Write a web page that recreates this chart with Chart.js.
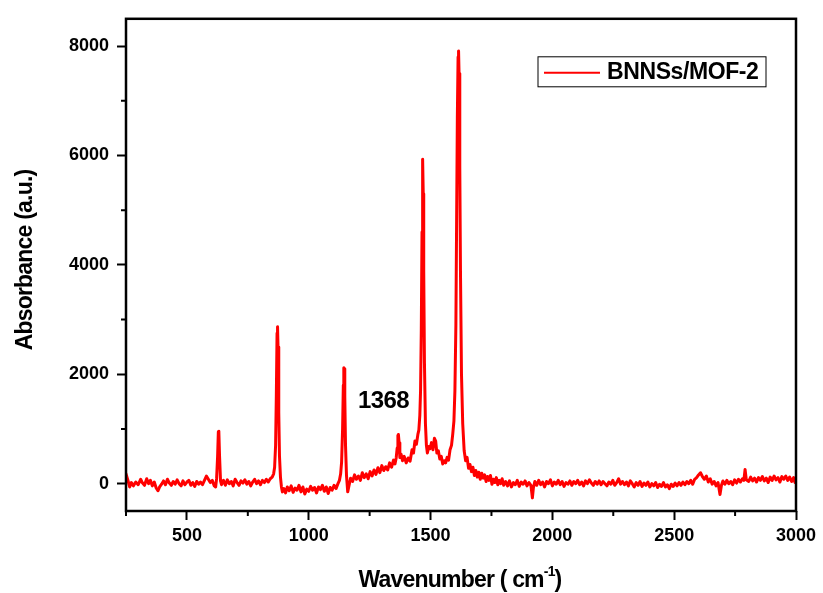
<!DOCTYPE html>
<html>
<head>
<meta charset="utf-8">
<script src="https://cdn.jsdelivr.net/npm/chart.js"></script>
<style>
body { margin: 0; background: #fff; }
canvas { display: block; }
</style>
</head>
<body>
<canvas id="spectrumChart" width="823" height="593"></canvas>
<script>
// spectrum, wavenumber (cm-1) and absorbance (a.u.)
const wavenumbers = [
    250, 258, 265, 272, 280, 290, 300, 310, 318, 326,
    335, 343, 350, 358, 366, 374, 381, 388, 396, 404,
    412, 420, 428, 436, 444, 452, 460, 468, 476, 484,
    492, 500, 508, 516, 524, 532, 540, 548, 556, 564,
    572, 580, 588, 596, 604, 612, 618, 622, 626, 629,
    631, 634, 638, 642, 650, 658, 666, 674, 682, 690,
    698, 706, 714, 722, 730, 738, 746, 754, 762, 770,
    778, 786, 794, 802, 810, 818, 826, 834, 842, 850,
    856, 860, 864, 867, 870, 872, 874, 877, 880, 884,
    888, 892, 898, 905, 912, 920, 928, 936, 944, 952,
    960, 968, 976, 984, 992, 1000, 1008, 1016, 1024, 1032,
    1040, 1048, 1056, 1064, 1072, 1080, 1088, 1096, 1104, 1112,
    1120, 1126, 1131, 1135, 1139, 1142, 1144, 1146, 1148, 1151,
    1155, 1160, 1165, 1172, 1180, 1188, 1196, 1204, 1212, 1220,
    1228, 1236, 1244, 1252, 1260, 1268, 1276, 1284, 1292, 1300,
    1308, 1316, 1324, 1332, 1340, 1348, 1354, 1359, 1363, 1366,
    1368, 1371, 1374, 1379, 1385, 1392, 1400, 1408, 1416, 1424,
    1430, 1436, 1442, 1448, 1452, 1456, 1459, 1462, 1465, 1467,
    1468, 1470, 1472, 1475, 1479, 1483, 1487, 1493, 1498, 1504,
    1510, 1516, 1521, 1526, 1532, 1538, 1544, 1550, 1556, 1562,
    1568, 1574, 1580, 1586, 1591, 1596, 1600, 1604, 1607, 1610,
    1613, 1615, 1617, 1620, 1623, 1627, 1632, 1638, 1644, 1650,
    1656, 1662, 1668, 1674, 1680, 1686, 1692, 1698, 1704, 1710,
    1716, 1722, 1728, 1734, 1740, 1746, 1752, 1758, 1764, 1770,
    1776, 1782, 1788, 1794, 1800, 1808, 1816, 1824, 1832, 1840,
    1848, 1856, 1864, 1872, 1880, 1888, 1896, 1904, 1912, 1918,
    1922, 1928, 1936, 1944, 1952, 1960, 1968, 1976, 1984, 1992,
    2000, 2008, 2016, 2024, 2032, 2040, 2048, 2056, 2064, 2072,
    2080, 2088, 2096, 2104, 2112, 2120, 2128, 2136, 2144, 2152,
    2160, 2168, 2176, 2184, 2192, 2200, 2208, 2216, 2224, 2232,
    2240, 2248, 2256, 2264, 2272, 2280, 2288, 2296, 2304, 2312,
    2320, 2328, 2336, 2344, 2352, 2360, 2368, 2376, 2384, 2392,
    2400, 2408, 2416, 2424, 2432, 2440, 2448, 2456, 2464, 2472,
    2480, 2488, 2496, 2504, 2512, 2520, 2528, 2536, 2544, 2552,
    2560, 2568, 2576, 2584, 2592, 2600, 2608, 2616, 2624, 2632,
    2640, 2648, 2656, 2664, 2672, 2680, 2688, 2694, 2700, 2708,
    2716, 2724, 2732, 2740, 2748, 2756, 2764, 2772, 2780, 2786,
    2791, 2796, 2806, 2814, 2822, 2830, 2838, 2846, 2854, 2862,
    2870, 2878, 2886, 2894, 2902, 2910, 2918, 2926, 2934, 2942,
    2950, 2958, 2966, 2974, 2982, 2990, 2996, 3000
];
const absorbance = [
    180, 60, -60, 20, -40, 30, -20, 80, 10, -30,
    90, 0, 60, -40, 30, -80, -130, -60, -10, 50,
    -20, 80, 10, -30, 40, -10, 70, 0, -40, 50,
    -20, 30, 60, -30, 20, -50, 40, -10, 30, -20,
    60, 140, 80, 20, 60, -40, -60, 100, 500, 950,
    960, 500, 50, -20, 60, -30, 70, 0, 40, -40,
    80, 20, -30, 50, 10, 70, -10, 40, -40, 30,
    80, 0, 50, -20, 60, 20, 80, 30, 90, 120,
    180, 300, 700, 1600, 2750, 2870, 2500, 1300, 500, 120,
    -60, -150, -90, -170, -60, -130, -40, -160, -80, -120,
    -30, -150, -60, -190, -100, -140, -50, -120, -70, -170,
    -60, -110, -30, -140, -60, -180, -70, -120, -30, -90,
    0, 60, 180, 400, 1000, 1800, 2120, 2100, 1600, 700,
    150, -150, -40, 100, 40, 160, 80, 140, 60, 200,
    110, 180, 90, 220, 140, 250, 170, 290, 200, 330,
    240, 310, 250, 380, 300, 430, 360, 470, 650, 880,
    900, 750, 480, 540, 420, 500, 380, 470, 410, 620,
    560, 780, 720, 900, 980, 1250, 1700, 2800, 4600, 5700,
    5930, 5300, 3900, 2200, 1100, 700, 560, 680, 640, 750,
    620, 830, 780, 560, 600, 450, 500, 360, 420, 380,
    480, 430, 620, 700, 900, 1150, 1700, 2900, 4800, 6700,
    7800, 7910, 7500, 5800, 3800, 2000, 1100, 600, 420, 480,
    280, 350, 220, 300, 150, 240, 120, 210, 80, 190,
    100, 160, 40, 130, 60, 150, -10, 80, 20, 110,
    -20, 60, 0, 90, -30, 40, -40, 50, -60, 20,
    -20, 60, -50, 30, -10, 50, -40, 20, -30, -260,
    -80, 40, -30, 60, -20, 30, -60, 40, 0, 70,
    -40, 30, -10, 60, -20, 40, -50, 20, -10, 50,
    -30, 40, 0, 60, -20, 30, -40, 50, 0, 70,
    10, -30, 40, -10, 50, -20, 40, 0, -40, 30,
    -10, 60, -30, 20, 90, -10, 40, -20, 30, -40,
    50, 0, -60, 20, -30, 40, -50, 10, -30, 30,
    -60, 0, -40, 20, -70, -10, -50, 20, -60, -20,
    -90, -10, -50, 10, -40, 20, -30, 30, -20, 40,
    0, 60, -10, 80, 110, 160, 200, 130, 80, 140,
    30, 90, -10, 40, -40, 20, -200, -30, 50, -10,
    60, 0, 40, -20, 70, 10, 80, 30, 90, 60,
    260, 70, 40, 120, 50, 100, 30, 110, 60, 130,
    50, 100, 20, 120, 60, 140, 70, 110, 30, 130,
    80, 140, 60, 120, 40, 110, 20, 100
];
const xTicks = [500, 1000, 1500, 2000, 2500, 3000];
const xMinorTicks = [250, 750, 1250, 1750, 2250, 2750];
const yTicks = [0, 2000, 4000, 6000, 8000];
const yMinorTicks = [1000, 3000, 5000, 7000];
const seriesName = 'BNNSs/MOF-2';
const peakLabel = '1368';
const xTitle = 'Wavenumber ( cm';
const yTitle = 'Absorbance (a.u.)';

const FONT = '"Liberation Sans", Arial, sans-serif';
Chart.defaults.font.family = FONT;
Chart.defaults.color = '#000';

const framePlugin = {
    id: 'frame',
    afterDraw(chart) {
        const ctx = chart.ctx;
        const area = chart.chartArea;
        const xs = chart.scales.x;
        const ys = chart.scales.y;
        ctx.save();

        // box round the plot
        ctx.strokeStyle = '#000';
        ctx.lineWidth = 2.5;
        ctx.strokeRect(area.left, area.top, area.right - area.left, area.bottom - area.top);

        // minor ticks
        ctx.lineWidth = 2;
        ctx.beginPath();
        xMinorTicks.forEach(v => {
            const px = xs.getPixelForValue(v);
            ctx.moveTo(px, area.bottom);
            ctx.lineTo(px, area.bottom + 5);
        });
        yMinorTicks.forEach(v => {
            const py = ys.getPixelForValue(v);
            ctx.moveTo(area.left, py);
            ctx.lineTo(area.left - 5, py);
        });
        ctx.stroke();

        // legend box
        const lx = area.right - 258, ly = area.top + 38;
        ctx.lineWidth = 1;
        ctx.strokeRect(lx, ly, 228, 30);
        ctx.strokeStyle = '#ff0000';
        ctx.lineWidth = 2;
        ctx.beginPath();
        ctx.moveTo(lx + 6, ly + 16);
        ctx.lineTo(lx + 62, ly + 16);
        ctx.stroke();
        ctx.fillStyle = '#000';
        ctx.font = 'bold 23px ' + FONT;
        ctx.letterSpacing = '-0.4px';
        ctx.textBaseline = 'middle';
        ctx.textAlign = 'left';
        ctx.fillText(chart.data.datasets[0].label, lx + 69, ly + 16);

        // peak annotation
        ctx.font = 'bold 24px ' + FONT;
        ctx.letterSpacing = '-0.6px';
        ctx.textAlign = 'center';
        ctx.fillText(peakLabel, xs.getPixelForValue(1307), ys.getPixelForValue(1500));

        // axis titles
        ctx.font = 'bold 23px ' + FONT;
        ctx.letterSpacing = '-0.8px';
        const tw = ctx.measureText(xTitle).width;
        ctx.font = 'bold 14px ' + FONT;
        const sw = ctx.measureText('-1').width;
        ctx.font = 'bold 23px ' + FONT;
        const cw = ctx.measureText(')').width;
        const total = tw + sw + cw;
        let tx = 460 - total / 2;
        ctx.textAlign = 'left';
        ctx.textBaseline = 'alphabetic';
        ctx.fillText(xTitle, tx, 587);
        ctx.font = 'bold 14px ' + FONT;
        ctx.fillText('-1', tx + tw, 576);
        ctx.font = 'bold 23px ' + FONT;
        ctx.fillText(')', tx + tw + sw, 587);

        ctx.translate(26, 260);
        ctx.rotate(-Math.PI / 2);
        ctx.textAlign = 'center';
        ctx.textBaseline = 'middle';
        ctx.fillText(yTitle, 0, 0);
        ctx.restore();
    }
};

const spectrum_ctx = document.getElementById('spectrumChart').getContext('2d');
const spectrum_data = {
    datasets: [
        {
            label: seriesName,
            data: wavenumbers.map((w, i) => ({ x: w, y: absorbance[i] })),
            borderColor: '#ff0000',
            borderWidth: 3,
            borderJoinStyle: 'round',
            borderCapStyle: 'round',
            pointRadius: 0,
            tension: 0,
            fill: false
        }
    ]
};
const spectrum_config = {
    type: 'line',
    data: spectrum_data,
    options: {
        responsive: false,
        animation: false,
        layout: { padding: { left: 0, top: 16, right: 27, bottom: 0 } },
        plugins: {
            legend: { display: false },
            tooltip: { enabled: false }
        },
        scales: {
            x: {
                type: 'linear',
                min: 250,
                max: 3000,
                afterFit: (scale) => { scale.height = 82; },
                afterBuildTicks: (scale) => { scale.ticks = xTicks.map(v => ({ value: v })); },
                border: { display: false },
                grid: { drawOnChartArea: false, drawTicks: true, tickLength: 9, tickWidth: 2, tickColor: '#000' },
                ticks: {
                    callback: (v) => String(v),
                    font: { size: 18, weight: 'bold' },
                    color: '#000',
                    padding: 5,
                    maxRotation: 0
                }
            },
            y: {
                min: -500,
                max: 8500,
                afterFit: (scale) => { scale.width = 126; },
                afterBuildTicks: (scale) => { scale.ticks = yTicks.map(v => ({ value: v })); },
                border: { display: false },
                grid: { drawOnChartArea: false, drawTicks: true, tickLength: 9, tickWidth: 2, tickColor: '#000' },
                ticks: {
                    callback: (v) => String(v),
                    font: { size: 18, weight: 'bold' },
                    color: '#000',
                    padding: 8
                }
            }
        }
    },
    plugins: [framePlugin]
};
const spectrumChart = new Chart(spectrum_ctx, spectrum_config);
</script>
</body>
</html>
